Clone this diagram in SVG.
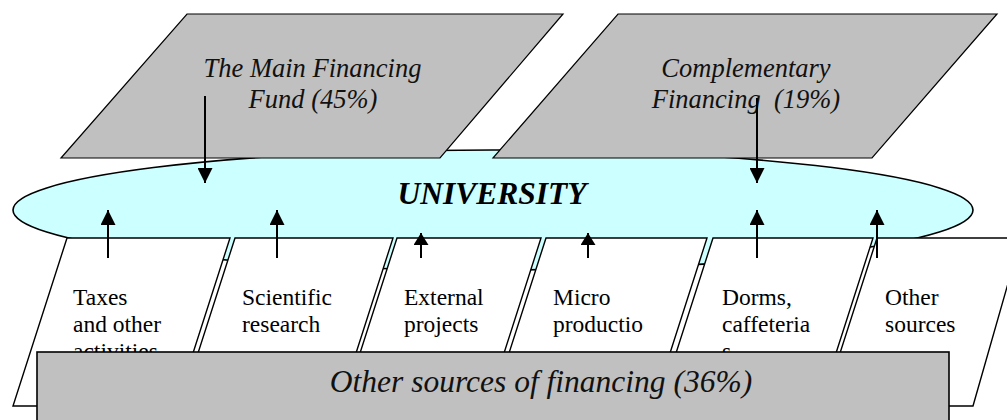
<svg xmlns="http://www.w3.org/2000/svg" width="1007" height="420" viewBox="0 0 1007 420">
  <style>
    .fund { fill: #C0C0C0; stroke: #000; stroke-width: 1.2; }
    .src { fill: #FFFFFF; stroke: #000; stroke-width: 1.4; }
    .hub { fill: #CCFFFF; stroke: #000; stroke-width: 1.6; }
    .total { fill: #C0C0C0; stroke: #000; stroke-width: 1.6; }
    text { font-family: 'Liberation Serif', 'DejaVu Serif', serif; }
    .cap { font-style: italic; fill: #111; text-anchor: middle; white-space: pre; }
    .lbl { font-size: 23.5px; fill: #000; }
    .flow { stroke: #000; stroke-width: 2; fill: none; }
  </style>
  <defs>
    <marker id="head" viewBox="0 0 16 15" refX="15" refY="7.5" markerWidth="16" markerHeight="15" markerUnits="userSpaceOnUse" orient="auto">
      <path d="M0,0 L15,7.5 L0,15 Z" fill="#000"/>
    </marker>
    <marker id="headSmall" viewBox="0 0 13 15" refX="12" refY="7.5" markerWidth="13" markerHeight="15" markerUnits="userSpaceOnUse" orient="auto">
      <path d="M0,0 L12,7.5 L0,15 Z" fill="#000"/>
    </marker>
  </defs>

  <!-- central node -->
  <g id="university">
    <ellipse class="hub" cx="493" cy="210" rx="480" ry="60"/>
    <text x="492" y="204" font-size="31.5" font-weight="bold" font-style="italic" text-anchor="middle" fill="#000">UNIVERSITY</text>
  </g>

  <!-- funding sources above -->
  <g id="main-fund">
    <polygon class="fund" points="187,14 563,14 440,158 61,158"/>
    <text class="cap" font-size="26.5" x="312.5" y="77">The Main Financing</text>
    <text class="cap" font-size="26.5" x="313" y="108">Fund (45%)</text>
  </g>
  <g id="complementary">
    <polygon class="fund" points="618,14 997,14 872,158 493,158"/>
    <text class="cap" font-size="26.5" x="746" y="77">Complementary</text>
    <text class="cap" font-size="26.5" x="746" y="108">Financing  (19%)</text>
  </g>

  <!-- individual sources below -->
  <g id="taxes">
    <polygon class="src" points="67,238 230,238 176,406 13,406"/>
    <text class="lbl" x="73" y="305">Taxes</text>
    <text class="lbl" x="73" y="332">and other</text>
    <text class="lbl" x="73" y="359">activities</text>
  </g>
  <g id="research">
    <polygon class="src" points="235,238 393,238 339,406 181,406"/>
    <text class="lbl" x="242" y="305">Scientific</text>
    <text class="lbl" x="242" y="332">research</text>
  </g>
  <g id="projects">
    <polygon class="src" points="397,238 541,238 487,406 343,406"/>
    <text class="lbl" x="404" y="305">External</text>
    <text class="lbl" x="404" y="332">projects</text>
  </g>
  <g id="production">
    <polygon class="src" points="546,238 707,238 653,406 492,406"/>
    <text class="lbl" x="553" y="305">Micro</text>
    <text class="lbl" x="553" y="332">productio</text>
  </g>
  <g id="dorms">
    <polygon class="src" points="713,238 873,238 819,406 659,406"/>
    <text class="lbl" x="722" y="305">Dorms,</text>
    <text class="lbl" x="722" y="332">caffeteria</text>
    <text class="lbl" x="722" y="359">s</text>
  </g>
  <g id="other">
    <polygon class="src" points="877,238 1021,238 973,406 823,406"/>
    <text class="lbl" x="885" y="305">Other</text>
    <text class="lbl" x="885" y="332">sources</text>
  </g>

  <!-- flows into the university -->
  <g id="connectors">
    <line class="flow" x1="205" y1="96" x2="205" y2="183" marker-end="url(#head)"/>
    <line class="flow" x1="757" y1="98" x2="757" y2="183" marker-end="url(#head)"/>
    <line class="flow" x1="108" y1="258" x2="108" y2="210" marker-end="url(#head)"/>
    <line class="flow" x1="277" y1="258" x2="277" y2="210" marker-end="url(#head)"/>
    <line class="flow" x1="421" y1="258" x2="421" y2="233" marker-end="url(#headSmall)"/>
    <line class="flow" x1="588" y1="258" x2="588" y2="233" marker-end="url(#headSmall)"/>
    <line class="flow" x1="757" y1="258" x2="757" y2="210" marker-end="url(#head)"/>
    <line class="flow" x1="877" y1="258" x2="877" y2="210" marker-end="url(#head)"/>
  </g>

  <!-- combined share of the other sources -->
  <g id="other-total">
    <rect class="total" x="37" y="352" width="912" height="80"/>
    <text class="cap" font-size="31.5" x="541" y="392">Other sources of financing (36%)</text>
  </g>
</svg>
